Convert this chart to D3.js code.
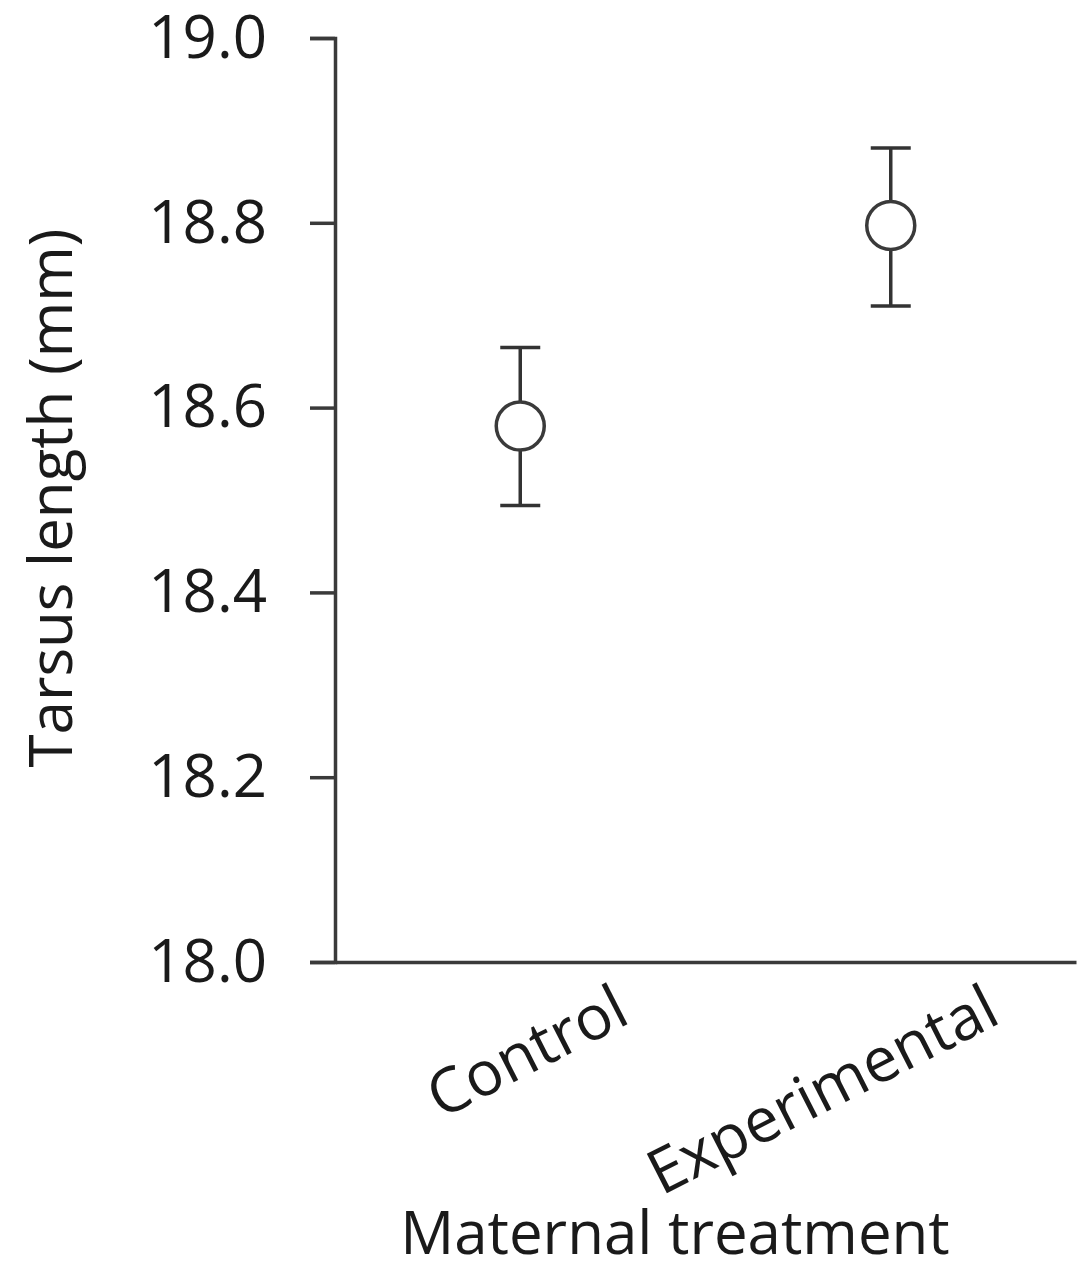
<!DOCTYPE html>
<html>
<head>
<meta charset="utf-8">
<script src="https://cdn.jsdelivr.net/npm/d3@7"></script>
<style>
  body { margin: 0; background: #fff; }
  text { font-family: "Open Sans", sans-serif; fill: #1a1a1a; }
</style>
</head>
<body>
<div class="chart-div"></div>
<script>
const groups = ["Control", "Experimental"];
const means = [18.58, 18.797];
const upper = [18.665, 18.881];
const lower = [18.494, 18.710];
const yTicks = [18.0, 18.2, 18.4, 18.6, 18.8, 19.0];

const w = 1079;
const h = 1269;

const svg = d3.select(".chart-div")
    .append("svg")
    .attr("width", w)
    .attr("height", h);

const xScale = d3.scaleBand()
    .domain(groups)
    .range([335, 1076]);

const yScale = d3.scaleLinear()
    .domain([18, 19])
    .range([962, 38]);

// y axis
const yAxis = d3.axisLeft(yScale)
    .tickValues(yTicks)
    .tickFormat(d3.format(".1f"))
    .tickSize(25)
    .tickPadding(43);

const gy = svg.append("g")
    .attr("transform", "translate(335,0)")
    .call(yAxis);
gy.select(".domain").attr("stroke", "#3a3a3a").attr("stroke-width", 3.5);
gy.selectAll(".tick line").attr("stroke", "#3a3a3a").attr("stroke-width", 3.5);
gy.selectAll(".tick text")
    .style("font-size", "60px")
    .attr("fill", "#1a1a1a");

// x axis
const xAxis = d3.axisBottom(xScale).tickSize(0).tickFormat("");
const gx = svg.append("g")
    .attr("transform", "translate(0,962)")
    .call(xAxis);
gx.select(".domain").attr("stroke", "#3a3a3a").attr("stroke-width", 3.5);

// category labels, rotated
svg.selectAll(".cat")
    .data(groups).enter()
    .append("text")
    .attr("class", "cat")
    .attr("text-anchor", "end")
    .attr("transform", d => {
        const x = xScale(d) + xScale.bandwidth() / 2 + 112;
        return `translate(${x},1022) rotate(-27)`;
    })
    .style("font-size", "62px")
    .text(d => d);

// error bars
const capW = 20;
const eb = svg.selectAll(".eb")
    .data(groups).enter()
    .append("g")
    .attr("class", "eb")
    .attr("stroke", "#333")
    .attr("stroke-width", 3.5);

eb.append("line")
    .attr("x1", d => xScale(d) + xScale.bandwidth() / 2)
    .attr("x2", d => xScale(d) + xScale.bandwidth() / 2)
    .attr("y1", (d, i) => yScale(upper[i]))
    .attr("y2", (d, i) => yScale(lower[i]));
eb.append("line")
    .attr("x1", d => xScale(d) + xScale.bandwidth() / 2 - capW)
    .attr("x2", d => xScale(d) + xScale.bandwidth() / 2 + capW)
    .attr("y1", (d, i) => yScale(upper[i]))
    .attr("y2", (d, i) => yScale(upper[i]));
eb.append("line")
    .attr("x1", d => xScale(d) + xScale.bandwidth() / 2 - capW)
    .attr("x2", d => xScale(d) + xScale.bandwidth() / 2 + capW)
    .attr("y1", (d, i) => yScale(lower[i]))
    .attr("y2", (d, i) => yScale(lower[i]));

// points
svg.selectAll(".pt")
    .data(groups).enter()
    .append("circle")
    .attr("class", "pt")
    .attr("cx", d => xScale(d) + xScale.bandwidth() / 2)
    .attr("cy", (d, i) => yScale(means[i]))
    .attr("r", 24)
    .attr("fill", "#fff")
    .attr("stroke", "#3a3a3a")
    .attr("stroke-width", 3.5);

// axis titles
svg.append("text")
    .attr("text-anchor", "middle")
    .attr("transform", "translate(72,498) rotate(-90)")
    .style("font-size", "60px")
    .text("Tarsus length (mm)");

svg.append("text")
    .attr("text-anchor", "middle")
    .attr("x", 675)
    .attr("y", 1254)
    .style("font-size", "60px")
    .text("Maternal treatment");
</script>
</body>
</html>
